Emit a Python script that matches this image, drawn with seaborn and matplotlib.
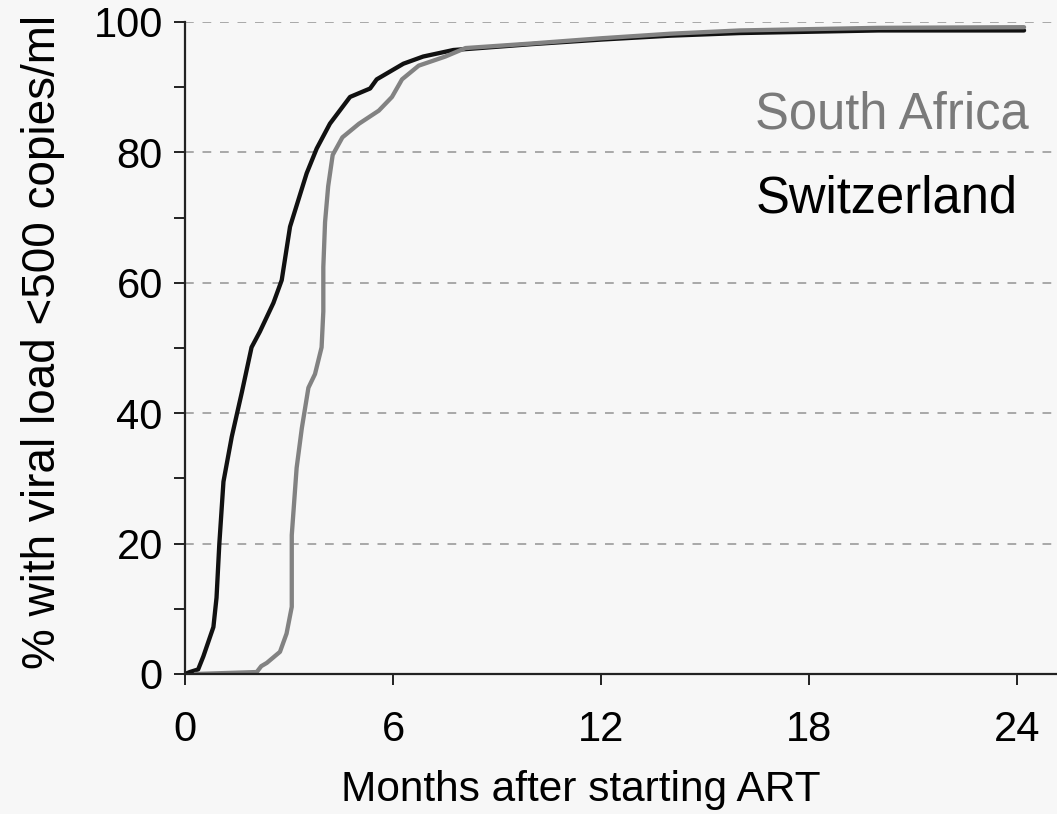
import seaborn as sns
import numpy as np
import pandas as pd
import matplotlib.pyplot as plt
from matplotlib.ticker import MultipleLocator

# Kaplan-Meier style curves (months, % suppressed)
months_sw = [0.0, 0.14, 0.38, 0.53, 0.82, 0.91, 0.99, 1.11, 1.35, 1.64, 1.92, 2.16,
             2.55, 2.79, 3.03, 3.27, 3.51, 3.80, 4.18, 4.76, 5.34, 5.53, 6.30, 6.87,
             7.74, 8.5, 10.0, 12.0, 14.0, 16.0, 18.0, 20.0, 24.2]
pct_sw = [0.0, 0.3, 0.7, 2.7, 7.2, 11.7, 19.9, 29.5, 36.4, 43.2, 50.1, 52.5,
          56.9, 60.4, 68.6, 72.7, 76.8, 80.6, 84.4, 88.5, 89.8, 91.2, 93.6, 94.7,
          95.7, 96.0, 96.6, 97.3, 97.9, 98.3, 98.5, 98.7, 98.7]

months_sa = [0.3, 2.07, 2.2, 2.36, 2.74, 2.93, 3.08, 3.08, 3.22, 3.37, 3.56, 3.75,
             3.94, 3.99, 3.99, 4.04, 4.13, 4.26, 4.54, 5.02, 5.59, 5.97, 6.26, 6.74,
             7.51, 8.09, 10.0, 12.0, 14.0, 16.0, 18.0, 20.0, 24.2]
pct_sa = [0.0, 0.3, 1.2, 1.7, 3.4, 6.2, 10.3, 21.3, 31.6, 37.7, 43.9, 46.0,
          50.1, 55.6, 62.4, 69.3, 74.8, 79.6, 82.3, 84.4, 86.4, 88.5, 91.2, 93.3,
          94.7, 96.0, 96.7, 97.5, 98.2, 98.7, 98.9, 99.1, 99.2]

countries = ['Switzerland', 'South Africa']
colors = {'Switzerland': '#111111', 'South Africa': '#828282'}

df = pd.concat([
    pd.DataFrame({'months': months_sw, 'pct': pct_sw, 'country': 'Switzerland'}),
    pd.DataFrame({'months': months_sa, 'pct': pct_sa, 'country': 'South Africa'}),
])

sns.set_style('ticks')
plt.rcParams['font.family'] = ['Liberation Sans', 'DejaVu Sans']

bg = '#f7f7f7'
fig, ax = plt.subplots(figsize=(10.57, 8.14), dpi=100, facecolor=bg)
ax.set_facecolor(bg)
fig.subplots_adjust(left=0.175, right=1.0, bottom=0.172, top=0.973)

sns.lineplot(data=df, x='months', y='pct', hue='country', hue_order=countries,
             palette=colors, estimator=None, sort=False, lw=3.1, legend=False, ax=ax)

ax.set_xlim(0, 25.15)
ax.set_ylim(0, 100)
ax.set_xticks([0, 6, 12, 18, 24])
ax.yaxis.set_major_locator(MultipleLocator(20))
ax.yaxis.set_minor_locator(MultipleLocator(10))
ax.yaxis.grid(True, which='major', color='#a8a8a8', lw=1.4, ls=(0, (4.5, 4.5)))
ax.set_axisbelow(True)

sns.despine(ax=ax, top=True, right=True)
for s in ['left', 'bottom']:
    ax.spines[s].set_color('#222222')
    ax.spines[s].set_linewidth(1.6)
ax.tick_params(axis='both', which='major', length=8, width=1.4, labelsize=30,
               colors='#222222', labelcolor='black')
ax.tick_params(axis='y', which='both', pad=8)
ax.tick_params(axis='x', which='major', pad=18)
ax.tick_params(axis='y', which='minor', length=8, width=1.4, colors='#222222')

ax.set_xlabel('Months after starting ART', fontsize=30.5, color='black')
ax.set_ylabel('% with viral load <500 copies/ml', fontsize=33, color='black')
ax.xaxis.set_label_coords(0.454, -0.147)
ax.yaxis.set_label_coords(-0.138, 0.51)

ax.text(0.654, 0.857, 'South Africa', transform=ax.transAxes, fontsize=36.5,
        color='#7a7a7a', va='center', ha='left')
ax.text(0.654, 0.729, 'Switzerland', transform=ax.transAxes, fontsize=36.5,
        color='black', va='center', ha='left')

plt.savefig('out.png', dpi=100, facecolor=bg)
